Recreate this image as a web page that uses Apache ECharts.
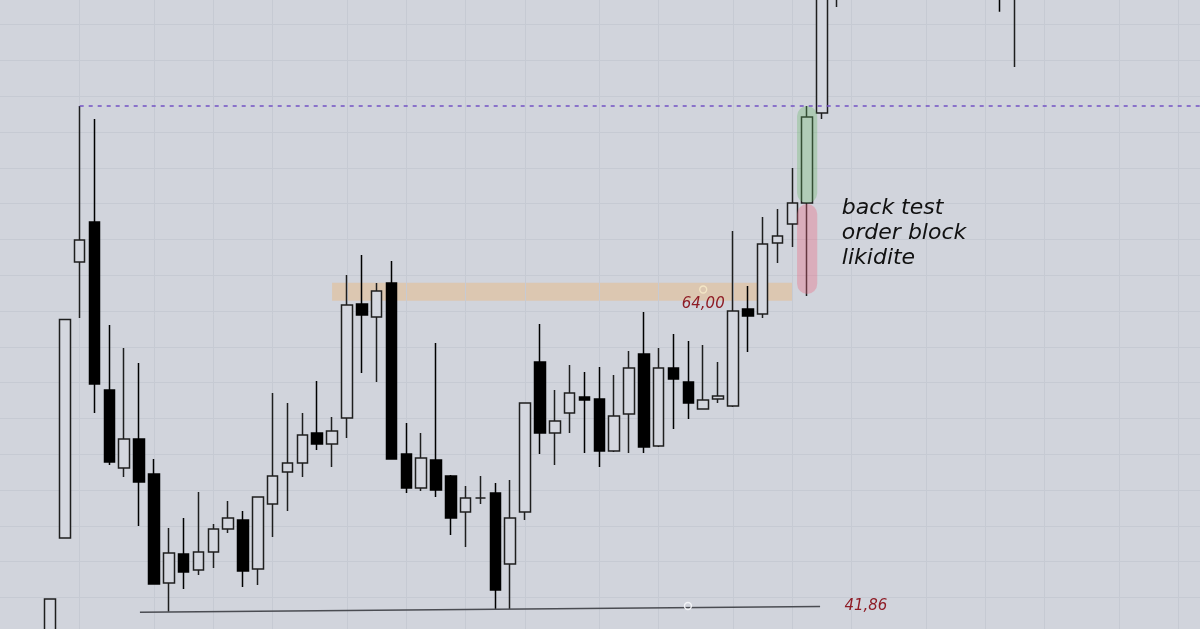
<!DOCTYPE html>
<html><head><meta charset="utf-8">
<script src="https://cdn.jsdelivr.net/npm/echarts@6/dist/echarts.min.js"></script>
<style>html,body{margin:0;padding:0;background:#d1d4dc}#c{width:1200px;height:629px}</style>
</head><body><div id="c"></div>
<script>
// bar index range visible in the window (bar 0 = first visible candle)
const xRange = [-3.368, 77.462];
const priceRange = [40.293, 84.218];
// [open, close, low, high] for consecutive bars starting at index 0
const candles = [
  [38.5, 42.39, 38.0, 42.39],
  [46.65, 61.91, 46.65, 61.91],
  [65.92, 67.46, 62.01, 76.82],
  [68.71, 57.40, 55.38, 75.91],
  [56.98, 51.96, 51.75, 61.52],
  [51.54, 53.56, 50.91, 59.92],
  [53.56, 50.56, 47.49, 58.87],
  [51.12, 43.44, 43.44, 52.16],
  [43.51, 45.60, 41.50, 47.35],
  [45.53, 44.27, 43.09, 48.04],
  [44.41, 45.67, 44.06, 49.86],
  [45.67, 47.28, 44.55, 47.62],
  [47.28, 48.04, 47.00, 49.23],
  [47.91, 44.34, 43.23, 48.53],
  [44.48, 49.51, 43.37, 49.51],
  [49.02, 50.98, 46.72, 56.77],
  [51.26, 51.89, 48.53, 56.08],
  [51.89, 53.84, 50.91, 55.38],
  [53.98, 53.21, 52.79, 57.61],
  [53.21, 54.12, 51.61, 55.10],
  [55.03, 62.92, 53.63, 65.01],
  [62.99, 62.22, 58.17, 66.41],
  [62.08, 63.90, 57.54, 64.46],
  [64.46, 52.16, 52.16, 65.99],
  [52.51, 50.14, 49.79, 54.68],
  [50.14, 52.23, 49.93, 53.98],
  [52.09, 50.00, 49.51, 60.27],
  [50.98, 48.04, 46.86, 51.05],
  [48.46, 49.44, 46.02, 50.28],
  [49.44, 49.44, 49.02, 50.98],
  [49.79, 43.02, 41.69, 50.49],
  [44.83, 48.04, 41.69, 50.70],
  [48.46, 56.08, 47.91, 56.08],
  [58.94, 53.98, 52.51, 61.59],
  [53.98, 54.82, 51.75, 56.98],
  [55.38, 56.77, 53.98, 58.73],
  [56.49, 56.29, 52.58, 58.24],
  [56.35, 52.72, 51.61, 58.59],
  [52.72, 55.17, 52.65, 58.03],
  [55.31, 58.52, 52.58, 59.71],
  [59.50, 53.00, 52.58, 62.43],
  [53.07, 58.52, 53.00, 59.92],
  [58.52, 57.75, 54.26, 60.89],
  [57.54, 56.08, 54.96, 60.41],
  [55.66, 56.29, 55.66, 60.13],
  [56.35, 56.56, 56.08, 58.94],
  [55.87, 62.50, 55.80, 68.09],
  [62.64, 62.15, 59.64, 64.25],
  [62.29, 67.18, 62.01, 69.06],
  [67.25, 67.74, 65.85, 69.62],
  [68.58, 70.04, 66.97, 72.49],
  [70.04, 76.05, 63.55, 76.82],
  [76.33, 87.50, 75.91, 88.20],
  [87.50, 89.00, 83.73, 90.00],
  [89.0, 91.5, 88.0, 92.5],
  [91.5, 93.0, 90.0, 94.5],
  [93.0, 92.0, 90.5, 95.0],
  [92.0, 94.5, 91.0, 96.0],
  [94.5, 96.0, 93.0, 97.5],
  [96.0, 95.0, 93.5, 98.0],
  [95.0, 93.0, 91.5, 96.5],
  [93.0, 91.0, 89.5, 94.0],
  [91.0, 90.0, 88.0, 92.5],
  [90.0, 88.5, 86.5, 91.0],
  [88.5, 87.0, 83.40, 89.5],
  [87.0, 88.5, 79.54, 90.0]
];
const vGridIdx = [2, 7, 11, 15, 20, 24, 28, 32, 37, 41, 46, 50, 54, 59, 63, 67, 72, 76];
const hGridPrices = [40, 42.5, 45, 47.5, 50, 52.5, 55, 57.5, 60, 62.5, 65, 67.5, 70, 72.5, 75, 77.5, 80, 82.5];
const resistance = { from: 2, to: 77.462, price: 76.82 };
const orderBlock = { from: 19, to: 50, low: 63.22, high: 64.48 };
const supportLine = { from: 6.06, to: 51.87, startPrice: 41.46, endPrice: 41.86 };
const pills = [ // [index, low, high]
  [51, 70.03, 76.82],
  [51, 63.69, 69.97]
];
const pillColors = ['rgba(100,180,100,0.32)', 'rgba(235,100,125,0.35)'];
const levelMarks = [
  { idx: 44, price: 64.00, text: '64,00', ring: '#f3e6c6' },
  { idx: 42.97, price: 41.90, text: '', ring: '#f4f5f8' }
];
const levelLabel = { idx: 54.96, price: 41.86, text: '41,86' };
const note = { idx: 53.0, price: 67.92, text: 'back test\norder block\nlikidite' };

const chart = echarts.init(document.getElementById('c'), null, { renderer: 'canvas' });
const gridColor = '#c6cad3';
const redText = '#8e1c26';
const candleData = candles.map((c, i) => [i, c[0], c[1], c[2], c[3]]);

chart.setOption({
  animation: false,
  backgroundColor: '#d1d4dc',
  grid: { left: 0, right: 0, top: 0, bottom: 0 },
  xAxis: {
    type: 'value', min: xRange[0], max: xRange[1],
    axisLine: { show: false }, axisTick: { show: false }, axisLabel: { show: false },
    splitLine: { show: false }
  },
  yAxis: {
    type: 'value', min: priceRange[0], max: priceRange[1],
    axisLine: { show: false }, axisTick: { show: false }, axisLabel: { show: false },
    splitLine: { show: false }
  },
  series: [
    {
      type: 'candlestick', data: candleData, barWidth: 11, z: 2, clip: true,
      encode: { x: 0, y: [1, 2, 3, 4] },
      itemStyle: {
        color: '#d4d7df', color0: '#000000',
        borderColor: '#1e1e1e', borderColor0: '#000000', borderWidth: 1.5
      },
      markLine: {
        silent: true, z: 1, symbol: ['none', 'none'], label: { show: false },
        lineStyle: { color: gridColor, width: 1, type: 'solid' },
        emphasis: { disabled: true },
        data: vGridIdx.map(i => ({ xAxis: i })).concat(hGridPrices.map(p => ({ yAxis: p })))
      },
      markArea: {
        silent: true, z: 1,
        itemStyle: { color: 'rgba(245,170,80,0.3)' },
        data: [[{ coord: [orderBlock.from, orderBlock.low] }, { coord: [orderBlock.to, orderBlock.high] }]]
      }
    },
    {
      type: 'custom', z: 3, silent: true,
      data: pills,
      renderItem: (params, api) => {
        const top = api.coord([api.value(0), api.value(2)]);
        const bot = api.coord([api.value(0), api.value(1)]);
        const w = api.size([1, 0])[0] * 1.36;
        return {
          type: 'rect',
          shape: { x: top[0] - w / 2, y: top[1], width: w, height: bot[1] - top[1], r: w / 2 },
          style: { fill: pillColors[params.dataIndex] }
        };
      }
    },
    {
      type: 'line', data: [], silent: true,
      markLine: {
        silent: true, z: 5, symbol: ['none', 'none'], label: { show: false },
        emphasis: { disabled: true },
        data: [
          [{ coord: [resistance.from, resistance.price], lineStyle: { color: '#7352c4', width: 1.5, type: [4, 5] } },
           { coord: [resistance.to, resistance.price] }],
          [{ coord: [supportLine.from, supportLine.startPrice], lineStyle: { color: '#4a4c52', width: 1.5, type: 'solid' } },
           { coord: [supportLine.to, supportLine.endPrice] }]
        ]
      },
      markPoint: {
        silent: true, z: 6,
        data: levelMarks.map(m => ({
          coord: [m.idx, m.price], symbol: 'circle', symbolSize: 7,
          itemStyle: { color: 'rgba(0,0,0,0)', borderColor: m.ring, borderWidth: 1.3 },
          label: {
            show: m.text !== '', position: 'bottom', distance: 3, formatter: m.text,
            fontFamily: 'DejaVu Sans', fontStyle: 'italic', fontSize: 15, color: redText
          }
        })).concat([
          {
            coord: [levelLabel.idx, levelLabel.price], symbol: 'circle', symbolSize: 0,
            label: {
              show: true, position: 'inside', formatter: levelLabel.text,
              fontFamily: 'DejaVu Sans', fontStyle: 'italic', fontSize: 15, color: redText
            }
          },
          {
            coord: [note.idx, note.price], symbol: 'circle', symbolSize: 0,
            label: {
              show: true, position: 'right', distance: 5, formatter: note.text, align: 'left',
              fontFamily: 'DejaVu Sans', fontStyle: 'italic', fontSize: 22, lineHeight: 25, color: '#111111'
            }
          }
        ])
      }
    }
  ]
});
</script>
</body></html>
